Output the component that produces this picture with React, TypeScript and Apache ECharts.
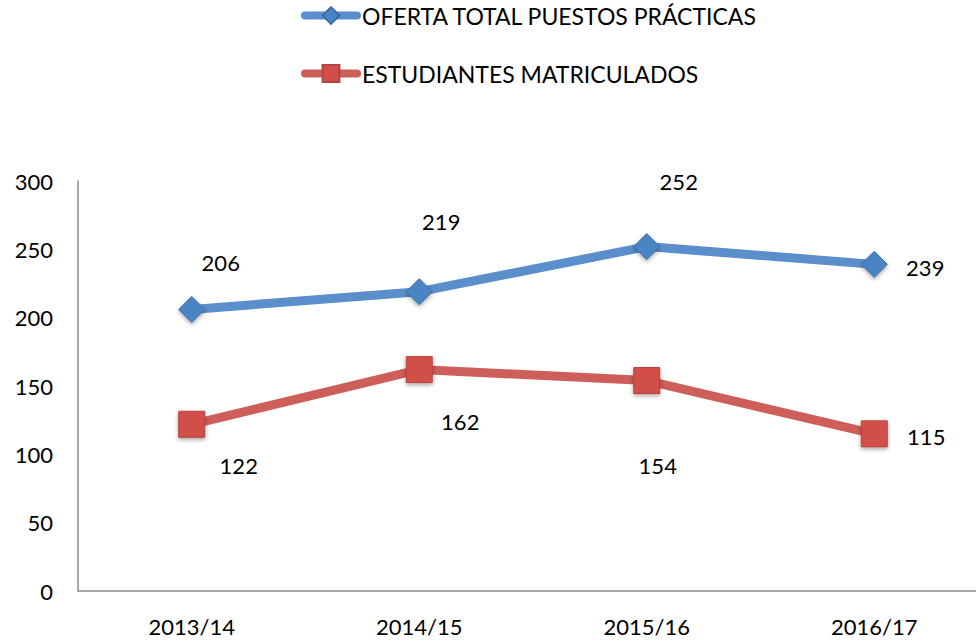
import React, { useEffect, useRef } from "react";
import * as echarts from "echarts";

const categories = ["2013/14", "2014/15", "2015/16", "2016/17"];
const ofertaValues = [206, 219, 252, 239];
const matriculadosValues = [122, 162, 154, 115];
const seriesNames = ["OFERTA TOTAL PUESTOS PRÁCTICAS", "ESTUDIANTES MATRICULADOS"];
const yTicks = { min: 0, max: 300, interval: 50 };

// label offsets (style only)
const ofertaLabelOffsets = [[29, -47], [22, -70], [32, -65], [51, 3]];
const matriculadosLabelOffsets = [[47, 41], [41, 52], [11, 85], [52, 3]];

const FONT = "Lato";

export default function App() {
  const ref = useRef<HTMLDivElement>(null);
  useEffect(() => {
    if (!ref.current) return;
    const chart = echarts.init(ref.current, undefined, { renderer: "svg" });
    const mkData = (vals: number[], offs: number[][]) =>
      vals.map((v, i) => ({
        value: v,
        label: { offset: offs[i] },
      }));
    chart.setOption({
      animation: false,
      textStyle: { fontFamily: FONT },
      legend: {
        orient: "vertical",
        left: 301,
        top: 4,
        padding: 0,
        itemWidth: 52,
        itemHeight: 21,
        itemGap: 35,
        lineStyle: { width: 8, cap: "round" },
        textStyle: { fontFamily: FONT, fontSize: 23, color: "#000" },
        data: seriesNames,
      },
      grid: {
        left: 78,
        top: 181,
        width: 910,
        height: 410,
        containLabel: false,
        outerBoundsMode: "none",
      },
      xAxis: {
        type: "category",
        data: categories,
        boundaryGap: true,
        axisLine: { lineStyle: { color: "#8C8C8C", width: 1.5 } },
        axisTick: { show: false },
        axisLabel: { fontFamily: FONT, fontSize: 22, color: "#000", margin: 24 },
      },
      yAxis: {
        type: "value",
        min: yTicks.min,
        max: yTicks.max,
        interval: yTicks.interval,
        axisLine: { show: true, lineStyle: { color: "#8C8C8C", width: 1.5 } },
        axisTick: { show: false },
        splitLine: { show: false },
        axisLabel: { fontFamily: FONT, fontSize: 22, color: "#000", margin: 25, padding: [6, 0, 0, 0] },
      },
      series: [
        {
          name: seriesNames[0],
          type: "line",
          data: mkData(ofertaValues, ofertaLabelOffsets),
          symbol: "diamond",
          symbolSize: 26,
          lineStyle: { color: "#5A8FCB", width: 9 },
          itemStyle: {
            color: "#4A84C4",
            borderColor: "#3A6DA8",
            borderWidth: 1,
            shadowColor: "rgba(0,0,0,0.35)",
            shadowBlur: 4,
            shadowOffsetY: 2,
          },
          label: {
            show: true,
            position: "inside",
            fontFamily: FONT,
            fontSize: 22,
            color: "#000",
          },
        },
        {
          name: seriesNames[1],
          type: "line",
          data: mkData(matriculadosValues, matriculadosLabelOffsets),
          symbol: "rect",
          symbolSize: 26,
          lineStyle: { color: "#CD5E5A", width: 9 },
          itemStyle: {
            color: "#D24F49",
            borderColor: "#B5443F",
            borderWidth: 1,
            shadowColor: "rgba(0,0,0,0.35)",
            shadowBlur: 4,
            shadowOffsetY: 2,
          },
          label: {
            show: true,
            position: "inside",
            fontFamily: FONT,
            fontSize: 22,
            color: "#000",
          },
        },
      ],
    });
    return () => chart.dispose();
  }, []);
  return <div ref={ref} style={{ width: 976, height: 644, position: "absolute", left: 0, top: 0 }} />;
}
